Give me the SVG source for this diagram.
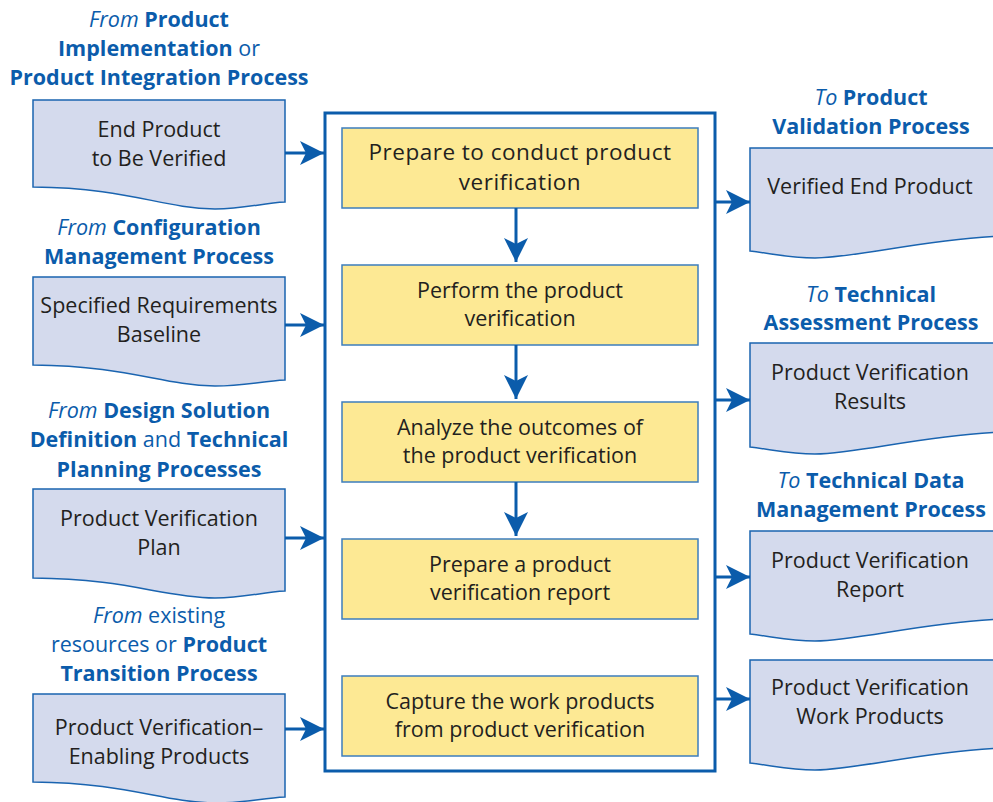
<svg xmlns="http://www.w3.org/2000/svg" width="993" height="802" viewBox="0 0 993 802">
<style>
.hd{font-family:"Open Sans","Liberation Sans",sans-serif;font-size:21.5px;fill:#0b5cab;text-anchor:middle}
.b{font-weight:bold}
.i{font-style:italic}
.tx{font-family:"Open Sans","Liberation Sans",sans-serif;font-size:21.5px;fill:#231f20;text-anchor:middle}
.big{font-size:22.5px;letter-spacing:0.5px}
.doc{fill:#d4daed;stroke:#1a64b0;stroke-width:1.5}
.step{fill:#fde994;stroke:#3d7dbd;stroke-width:1.5}
.ln{stroke:#0b5cab;stroke-width:3;fill:none}
</style>
<defs>
<marker id="ah" viewBox="0 0 24 24" refX="24" refY="12" markerWidth="24" markerHeight="24" markerUnits="userSpaceOnUse" orient="auto">
<path d="M0,0 L24,12 L0,24 L6,12 Z" fill="#0b5cab"/>
</marker>
</defs>

<!-- main box -->
<rect x="325" y="113" width="390" height="658" fill="#fff" stroke="#0b5cab" stroke-width="3"/>

<!-- left headings -->
<g id="h-left-1">
<text class="hd" x="159" y="27"><tspan class="i">From </tspan><tspan class="b">Product</tspan></text>
<text class="hd" x="159" y="56"><tspan class="b">Implementation</tspan> or</text>
<text class="hd b" x="159" y="85">Product Integration Process</text>
</g>
<g id="h-left-2">
<text class="hd" x="159" y="235"><tspan class="i">From </tspan><tspan class="b">Configuration</tspan></text>
<text class="hd b" x="159" y="264">Management Process</text>
</g>
<g id="h-left-3">
<text class="hd" x="159" y="418"><tspan class="i">From </tspan><tspan class="b">Design Solution</tspan></text>
<text class="hd" x="159" y="447"><tspan class="b">Definition</tspan> and <tspan class="b">Technical</tspan></text>
<text class="hd b" x="159" y="477">Planning Processes</text>
</g>
<g id="h-left-4">
<text class="hd" x="159" y="623"><tspan class="i">From</tspan> existing</text>
<text class="hd" x="159" y="652">resources or <tspan class="b">Product</tspan></text>
<text class="hd b" x="159" y="681">Transition Process</text>
</g>

<!-- right headings -->
<g id="h-right-1">
<text class="hd" x="871" y="105"><tspan class="i">To </tspan><tspan class="b">Product</tspan></text>
<text class="hd b" x="871" y="134">Validation Process</text>
</g>
<g id="h-right-2">
<text class="hd" x="871" y="302"><tspan class="i">To </tspan><tspan class="b">Technical</tspan></text>
<text class="hd b" x="871" y="330">Assessment Process</text>
</g>
<g id="h-right-3">
<text class="hd" x="871" y="488"><tspan class="i">To </tspan><tspan class="b">Technical Data</tspan></text>
<text class="hd b" x="871" y="517">Management Process</text>
</g>

<!-- left documents -->
<g id="in-1">
<path class="doc" d="M33,100 H285 V202 C262,203 245,209 215,209 C160,208 130,188 33,187 Z"/>
<text class="tx" x="159" y="137">End Product</text>
<text class="tx" x="159" y="166">to Be Verified</text>
</g>
<g id="in-2">
<path class="doc" d="M33,277 H285 V380 C262,381 245,386 215,386 C160,385 130,366 33,365 Z"/>
<text class="tx" x="159" y="313">Specified Requirements</text>
<text class="tx" x="159" y="342">Baseline</text>
</g>
<g id="in-3">
<path class="doc" d="M33,489 H285 V591 C262,592 245,598 215,598 C160,597 130,579 33,578 Z"/>
<text class="tx" x="159" y="526">Product Verification</text>
<text class="tx" x="159" y="555">Plan</text>
</g>
<g id="in-4">
<path class="doc" d="M33,694 H285 V797 C262,798 245,803 215,803 C160,802 130,783 33,782 Z"/>
<text class="tx" x="159" y="735">Product Verification–</text>
<text class="tx" x="159" y="764">Enabling Products</text>
</g>

<!-- right documents -->
<g id="out-1">
<path class="doc" d="M750,148 H1000 V236 C920,240 860,257 815,258 C790,258 775,254 750,251 Z"/>
<text class="tx" x="870" y="194">Verified End Product</text>
</g>
<g id="out-2">
<path class="doc" d="M750,343 H1000 V432 C920,436 860,453 815,454 C790,454 775,450 750,447 Z"/>
<text class="tx" x="870" y="380">Product Verification</text>
<text class="tx" x="870" y="409">Results</text>
</g>
<g id="out-3">
<path class="doc" d="M750,531 H1000 V619 C920,623 860,640 815,641 C790,641 775,637 750,634 Z"/>
<text class="tx" x="870" y="568">Product Verification</text>
<text class="tx" x="870" y="597">Report</text>
</g>
<g id="out-4">
<path class="doc" d="M750,660 H1000 V748 C920,752 860,769 815,770 C790,770 775,766 750,763 Z"/>
<text class="tx" x="870" y="695">Product Verification</text>
<text class="tx" x="870" y="724">Work Products</text>
</g>

<!-- steps -->
<g id="step-1">
<rect class="step" x="342" y="128" width="356" height="80"/>
<text class="tx big" x="520" y="160">Prepare to conduct product</text>
<text class="tx big" x="520" y="190">verification</text>
</g>
<g id="step-2">
<rect class="step" x="342" y="265" width="356" height="80"/>
<text class="tx" x="520" y="298">Perform the product</text>
<text class="tx" x="520" y="326">verification</text>
</g>
<g id="step-3">
<rect class="step" x="342" y="402" width="356" height="80"/>
<text class="tx" x="520" y="435">Analyze the outcomes of</text>
<text class="tx" x="520" y="463">the product verification</text>
</g>
<g id="step-4">
<rect class="step" x="342" y="539" width="356" height="80"/>
<text class="tx" x="520" y="572">Prepare a product</text>
<text class="tx" x="520" y="600">verification report</text>
</g>
<g id="step-5">
<rect class="step" x="342" y="676" width="356" height="80"/>
<text class="tx" x="520" y="709">Capture the work products</text>
<text class="tx" x="520" y="737">from product verification</text>
</g>

<!-- connectors -->
<g id="connectors">
<path class="ln" d="M516,208 V262" marker-end="url(#ah)"/>
<path class="ln" d="M516,345 V399" marker-end="url(#ah)"/>
<path class="ln" d="M516,482 V536" marker-end="url(#ah)"/>
<path class="ln" d="M285,153 H324" marker-end="url(#ah)"/>
<path class="ln" d="M285,325 H324" marker-end="url(#ah)"/>
<path class="ln" d="M285,538 H324" marker-end="url(#ah)"/>
<path class="ln" d="M285,729 H324" marker-end="url(#ah)"/>
<path class="ln" d="M715,202 H750" marker-end="url(#ah)"/>
<path class="ln" d="M715,400 H750" marker-end="url(#ah)"/>
<path class="ln" d="M715,577 H750" marker-end="url(#ah)"/>
<path class="ln" d="M715,699 H750" marker-end="url(#ah)"/>
</g>
</svg>
